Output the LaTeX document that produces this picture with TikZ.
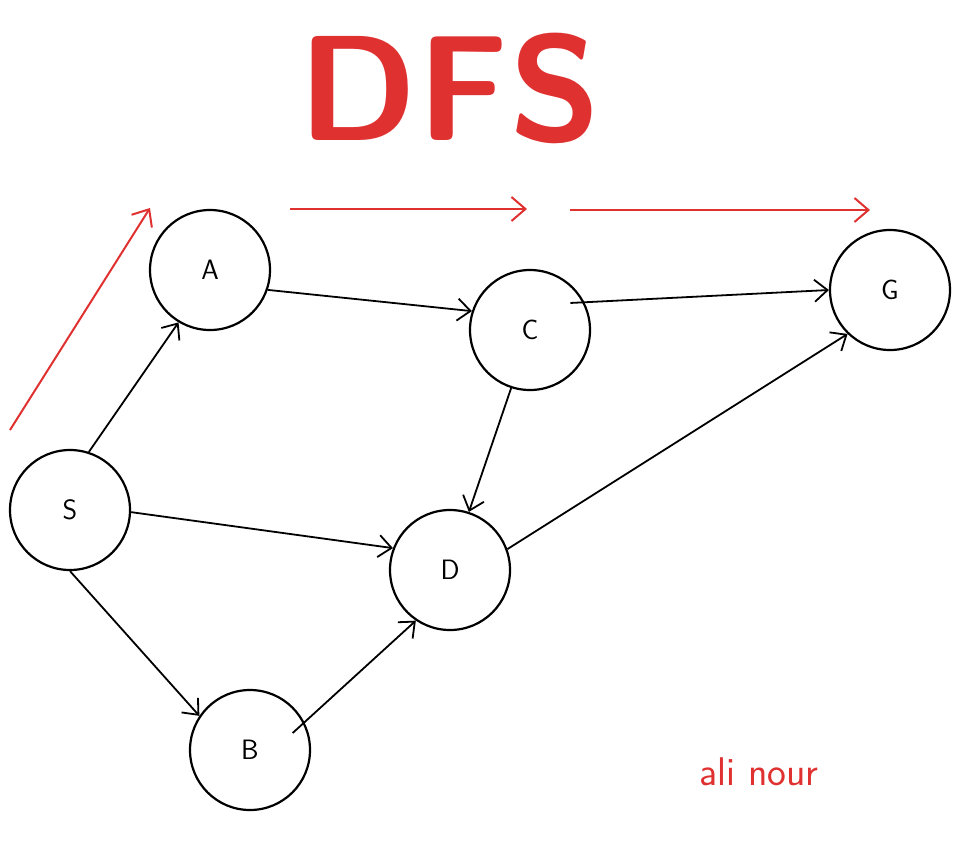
\documentclass[tikz,border=0pt]{standalone}
\usetikzlibrary{arrows.meta}
\definecolor{dfsred}{RGB}{224,49,49}
\begin{document}
\begin{tikzpicture}[x=1pt,y=-1pt]
        \tikzset{
        dfs node/.style={circle,draw,line width=2.2pt,minimum size=120pt,inner sep=0,font=\sffamily\fontsize{28}{32}\selectfont},
        dfs edge/.style={line width=1.8pt,-{Straight Barb[length=13pt,width=22pt,line width=1.8pt]}},
        order edge/.style={dfsred,line width=2pt,-{Straight Barb[length=14pt,width=24pt,line width=2pt]}}
        }
        \useasboundingbox (0,0) rectangle (960,852);
        \node[dfs node] (S) at (70, 510) {S};
        \node[dfs node] (A) at (210, 270) {A};
        \node[dfs node] (B) at (250, 750) {B};
        \node[dfs node] (C) at (530, 330) {C};
        \node[dfs node] (D) at (450, 570) {D};
        \node[dfs node] (G) at (890, 290) {G};

        \node[text=dfsred,font=\sffamily\bfseries\fontsize{150}{150}\selectfont] (title) at (450, 88) {DFS};
        \node[text=dfsred,font=\sffamily\fontsize{40}{44}\selectfont] (author) at (759, 772) {ali nour};

        \path[draw]
        (S.72) edge[dfs edge] (A.239)
        (A.341) edge[dfs edge] (C.162)
        (C.27) edge[dfs edge,shorten <=-14pt] (G.180)
        (C.252) edge[dfs edge] (D.72)
        (S.-2) edge[dfs edge] (D.159)
        (S.-90) edge[dfs edge] (B.146)
        (B.27) edge[dfs edge,shorten <=-16pt] (D.236)
        (D.20) edge[dfs edge] (G.226)
        ;

        % order of the search
        \coordinate (o1) at (10, 430);
        \coordinate (o2) at (150, 208);
        \coordinate (o3) at (290, 209);
        \coordinate (o4) at (527, 209);
        \coordinate (o5) at (570, 210);
        \coordinate (o6) at (870, 210);
        \draw[order edge] (o1) -- (o2);
        \draw[order edge] (o3) -- (o4);
        \draw[order edge] (o5) -- (o6);
    \end{tikzpicture}
\end{document}
